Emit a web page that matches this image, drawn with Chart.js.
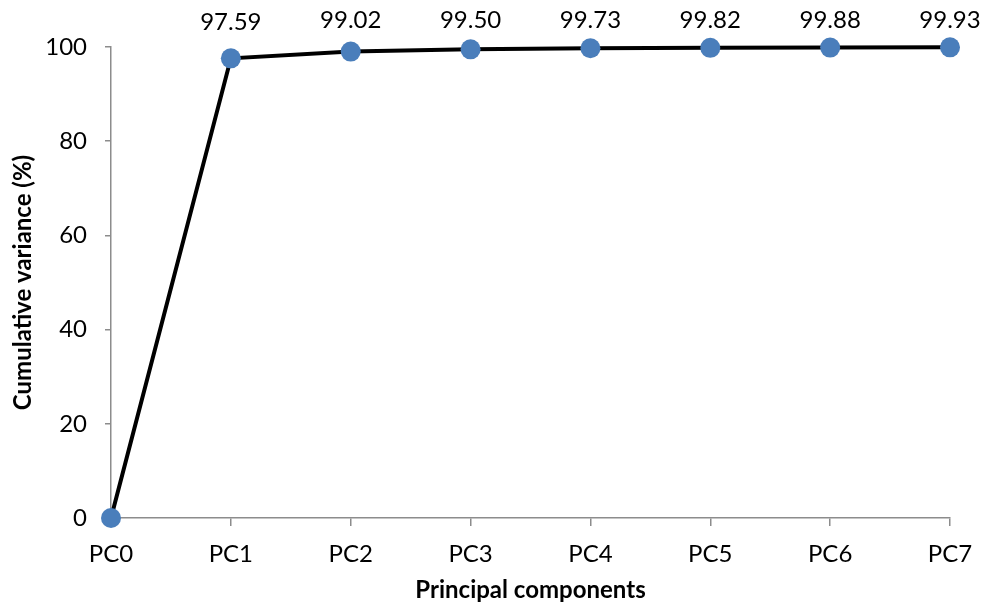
<!DOCTYPE html>
<html>
<head>
<meta charset="utf-8">
<script src="https://cdn.jsdelivr.net/npm/chart.js@4"></script>
<style>
  html, body { margin: 0; padding: 0; background: #fff; }
  #wrap { width: 990px; height: 612px; }
</style>
</head>
<body>
<div id="wrap"><canvas id="chart"></canvas></div>
<script>
// Cumulative explained variance per principal component
const components = ["PC0", "PC1", "PC2", "PC3", "PC4", "PC5", "PC6", "PC7"]
const cumulativeVariance = [0, 97.59, 99.02, 99.50, 99.73, 99.82, 99.88, 99.93]
const labelled = [false, true, true, true, true, true, true, true]
const yTicks = [0, 20, 40, 60, 80, 100]

const FONT = "Lato, 'Open Sans', sans-serif"
const AXIS_GREY = "#8c8c8c"

// Writes each point's value above its marker
const valueLabels = {
  id: "valueLabels",
  afterDatasetsDraw (chart) {
    const { ctx } = chart
    const meta = chart.getDatasetMeta(0)
    ctx.save()
    ctx.font = `24px ${FONT}`
    ctx.fillStyle = "#000"
    ctx.textAlign = "center"
    ctx.textBaseline = "middle"
    meta.data.forEach((pt, i) => {
      if (!labelled[i]) return
      const y = Math.max(20, pt.y - 36)
      ctx.fillText(cumulativeVariance[i].toFixed(2), pt.x, y)
    })
    ctx.restore()
  }
}

new Chart(document.getElementById("chart").getContext("2d"), {
  type: "line",
  data: {
    labels: components,
    datasets: [{
      data: cumulativeVariance,
      borderColor: "#000",
      borderWidth: 4,
      tension: 0,
      pointRadius: 10,
      pointHoverRadius: 10,
      pointBorderWidth: 0,
      pointBackgroundColor: "#4a7ebb",
      pointBorderColor: "#4a7ebb",
      clip: false
    }]
  },
  options: {
    responsive: true,
    maintainAspectRatio: false,
    animation: false,
    layout: { padding: { left: 0, right: 40, top: 47, bottom: 0 } },
    plugins: {
      legend: { display: false },
      tooltip: { enabled: false }
    },
    scales: {
      x: {
        offset: false,
        afterFit: scale => { scale.height = 94 },
        border: { color: AXIS_GREY, width: 1.5 },
        grid: { drawOnChartArea: false, drawTicks: true, tickLength: 8, color: AXIS_GREY, lineWidth: 1.5 },
        ticks: { color: "#000", padding: 14, font: { family: FONT, size: 24 }, maxRotation: 0 },
        title: {
          display: true,
          text: "Principal components",
          color: "#000",
          font: { family: FONT, size: 24, weight: "bold" },
          padding: { top: 0, bottom: 7 }
        }
      },
      y: {
        min: 0,
        max: 100,
        afterFit: scale => { scale.width = 111 },
        afterBuildTicks: scale => { scale.ticks = yTicks.map(v => ({ value: v })) },
        border: { color: AXIS_GREY, width: 1.5 },
        grid: { drawOnChartArea: false, drawTicks: true, tickLength: 6, color: AXIS_GREY, lineWidth: 1.5 },
        ticks: { color: "#000", padding: 18, font: { family: FONT, size: 24 } },
        title: {
          display: true,
          text: "Cumulative variance (%)",
          color: "#000",
          font: { family: FONT, size: 24, weight: "bold" },
          padding: { top: 9, bottom: 0 }
        }
      }
    }
  },
  plugins: [valueLabels]
})
</script>
</body>
</html>
